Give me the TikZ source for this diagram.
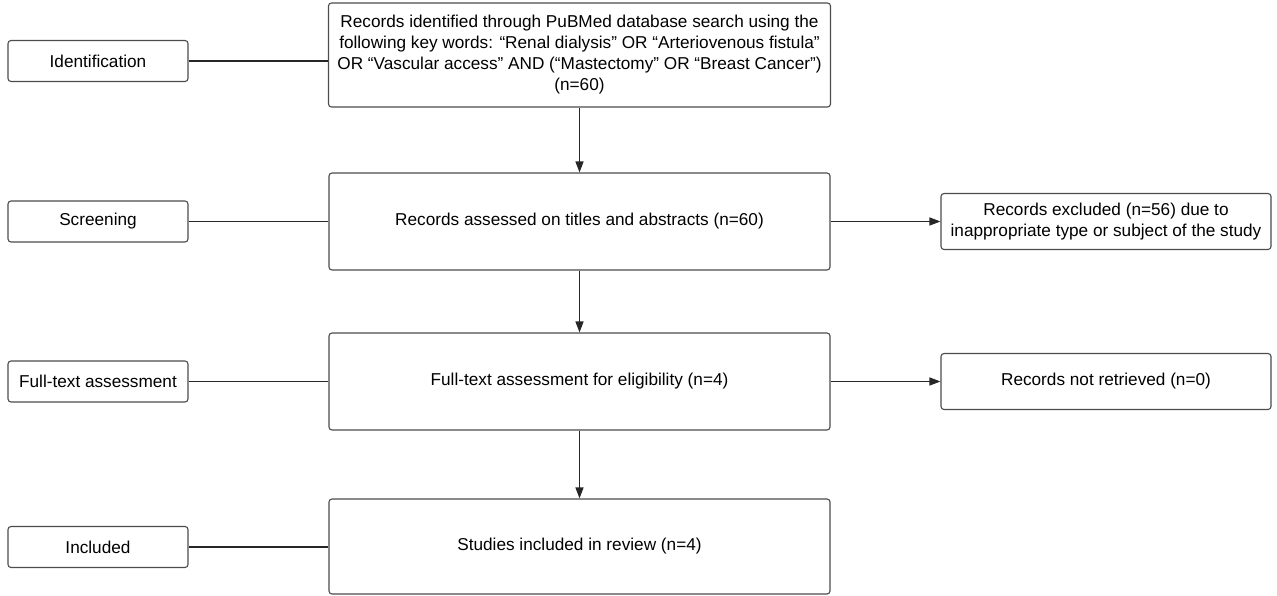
\documentclass[tikz,border=0pt]{standalone}
\usepackage{fontspec}
\setmainfont{Liberation Sans}
\usetikzlibrary{arrows.meta}
\begin{document}
\begin{tikzpicture}[x=1pt,y=-1pt,
  box/.style={draw=black!70,line width=1.1pt,rounded corners=3pt,align=center,
    inner sep=0pt,font=\fontsize{17.2}{21}\selectfont,text=black},
  conn/.style={draw=black!85,line width=1.3pt},
  arr/.style={conn,-{Triangle[length=11pt,width=8pt]}}]
\useasboundingbox (0,0) rectangle (1277,596);
\node[box,minimum width=180pt,minimum height=41pt] (l1) at (98,61) {Identification};
\node[box,minimum width=180pt,minimum height=41pt] (l2) at (98,221.5) {Screening};
\node[box,minimum width=180pt,minimum height=41pt] (l3) at (98,381.5) {Full-text assessment};
\node[box,minimum width=180pt,minimum height=41pt] (l4) at (98,547) {Included};
\node[box,minimum width=502pt,minimum height=104pt] (c1) at (579.5,55) {Records identified through PuBMed database search using the\\following key words: “Renal dialysis” OR “Arteriovenous fistula”\\OR “Vascular access” AND (“Mastectomy” OR “Breast Cancer”)\\(n=60)};
\node[box,minimum width=501pt,minimum height=97pt] (c2) at (579.5,221.5) {Records assessed on titles and abstracts (n=60)};
\node[box,minimum width=501pt,minimum height=97pt] (c3) at (579.5,381.5) {Full-text assessment for eligibility (n=4)};
\node[box,minimum width=501pt,minimum height=95pt] (c4) at (579.5,546.5) {Studies included in review (n=4)};
\node[box,minimum width=330pt,minimum height=56pt] (r2) at (1106,221.5) {Records excluded (n=56) due to\\inappropriate type or subject of the study};
\node[box,minimum width=330pt,minimum height=56pt] (r3) at (1106,381.5) {Records not retrieved (n=0)};
\draw[conn] (l1.east) -- (l1.east -| c1.west);
\draw[conn] (l2.east) -- (l2.east -| c2.west);
\draw[conn] (l3.east) -- (l3.east -| c3.west);
\draw[conn] (l4.east) -- (l4.east -| c4.west);
\draw[arr] (c1.south) -- (c2.north);
\draw[arr] (c2.south) -- (c3.north);
\draw[arr] (c3.south) -- (c4.north);
\draw[arr] (c2.east) -- (c2.east -| r2.west);
\draw[arr] (c3.east) -- (c3.east -| r3.west);
\end{tikzpicture}
\end{document}
